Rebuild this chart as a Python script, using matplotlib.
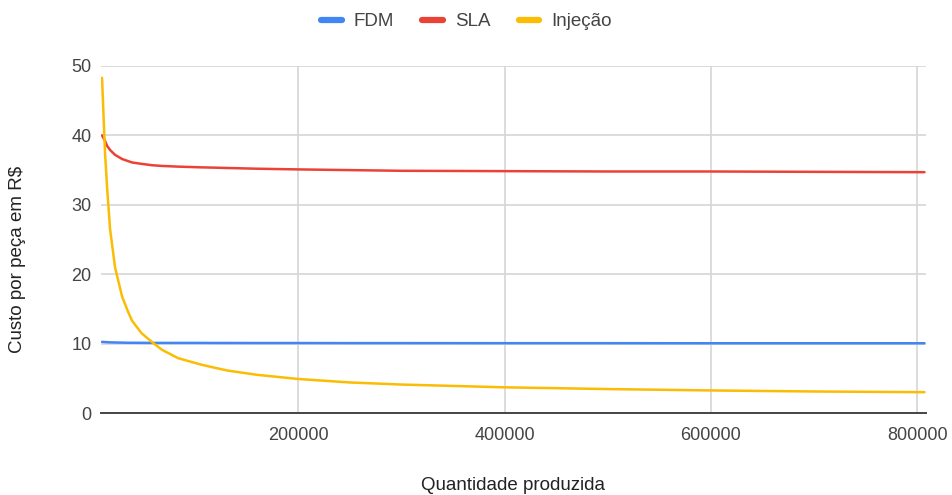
import matplotlib.pyplot as plt
from matplotlib.ticker import FixedLocator

plt.rcParams['font.family'] = ['Liberation Sans', 'DejaVu Sans']

# Quantidade produzida (eixo x)
quantidade = [9700, 12600, 14600, 17500, 22300, 29100, 34900, 38800, 48000, 58300,
              67900, 83500, 105000, 119500, 132000, 160000, 200000, 250000, 300000,
              400000, 500000, 600000, 700000, 807000]

# Custo por peça em R$
fdm = [10.25, 10.22, 10.2, 10.18, 10.16, 10.14, 10.12, 10.12, 10.11, 10.1,
       10.1, 10.1, 10.1, 10.09, 10.09, 10.08, 10.08, 10.07, 10.07,
       10.06, 10.06, 10.05, 10.05, 10.05]
sla = [40.0, 39.2, 38.5, 37.9, 37.2, 36.6, 36.3, 36.1, 35.9, 35.7,
       35.6, 35.5, 35.4, 35.35, 35.3, 35.2, 35.1, 35.0, 34.9,
       34.85, 34.8, 34.8, 34.75, 34.7]
injecao = [48.3, 37.5, 32.5, 26.5, 21.0, 16.8, 14.6, 13.3, 11.5, 10.2,
           9.1, 7.9, 7.0, 6.5, 6.1, 5.5, 4.9, 4.4, 4.1,
           3.7, 3.45, 3.25, 3.1, 3.0]

series = [('FDM', fdm, '#4285F4'), ('SLA', sla, '#EA4335'), ('Injeção', injecao, '#FBBC04')]

fig = plt.figure(figsize=(9.52, 4.95), dpi=100)
ax = fig.add_axes([101 / 952, 82 / 495, 825 / 952, 347 / 495])

for nome, valores, cor in series:
    ax.plot(quantidade, valores, color=cor, lw=1.8, label=nome, solid_capstyle='round')

ax.set_xlim(8700, 808500)
ax.set_ylim(0, 50)
ax.xaxis.set_major_locator(FixedLocator([200000, 400000, 600000, 800000]))
ax.set_xticklabels(['200000', '400000', '600000', '800000'])
ax.set_yticks([0, 10, 20, 30, 40, 50])
ax.grid(True, color='#d6d6d6', lw=1.2)
ax.set_axisbelow(True)
for s in ['left', 'right', 'top']:
    ax.spines[s].set_visible(False)
ax.spines['bottom'].set_color('#444444')
ax.spines['bottom'].set_linewidth(1.4)
ax.tick_params(length=0, labelsize=13, colors='#444444')
ax.tick_params(axis='x', pad=10)
ax.tick_params(axis='y', pad=7)

fig.text(513 / 952, 1 - 485 / 495, 'Quantidade produzida', fontsize=13.5,
         color='#222222', ha='center', va='center')
fig.text(18 / 952, 1 - 259 / 495, 'Custo por peça em R$', fontsize=13.5,
         color='#222222', ha='center', va='center', rotation=90)

leg = fig.legend(loc='center', bbox_to_anchor=(0.49, 0.956), ncol=3, frameon=False,
                 fontsize=13.5, handlelength=1.1, handletextpad=0.65, columnspacing=1.5,
                 labelcolor='#444444')
for h in leg.get_lines():
    h.set_linewidth(4.5)
    h.set_solid_capstyle('round')

fig.savefig('out.png', dpi=100)
